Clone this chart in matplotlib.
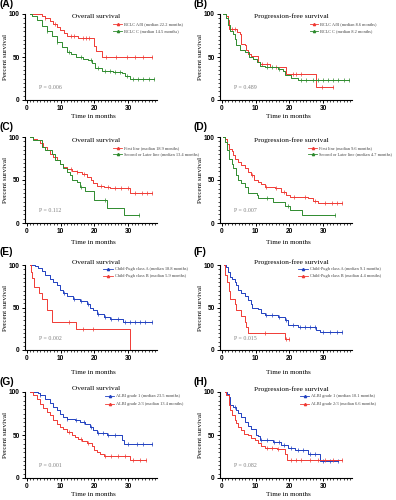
import numpy as np
import matplotlib
matplotlib.use("Agg")
import matplotlib.pyplot as plt
from matplotlib.ticker import MultipleLocator

plt.rcParams["font.family"] = "Liberation Serif"

RED = "#f03a34"
GREEN = "#2e8b2e"
BLUE = "#2040c0"

# ---- (A) overall survival by BCLC stage ----
a_ab_t = [1, 4.4, 5.4, 7.0, 7.9, 8.9, 9.9, 11.0, 11.8, 15.3, 19.8, 20.5, 22.2, 37.0]
a_ab_s = [100, 97.7, 95, 92, 88, 85, 81, 77.5, 74.4, 71.7, 63, 57, 50, 50]
a_ab_c = [5.5, 8.5, 13, 14, 16.5, 17.5, 18.5, 23.5, 26.5, 29.5, 32, 34.5, 37]
a_c_t = [1, 1.5, 3, 4.4, 5.9, 7.4, 8.9, 10.4, 11.8, 13.0, 14.5, 16.5, 18.0, 19.2,
         20.2, 22.2, 25.6, 28.1, 29.1, 30.6, 37.5]
a_c_s = [100, 98, 93, 86, 80.6, 74.4, 67.8, 61.2, 56.2, 54, 50.5, 48, 46, 42.6,
         36.8, 34, 32.5, 31, 28, 24.4, 24.4]
a_c_c = [6, 9, 12.5, 16, 19, 21, 23, 24.5, 26, 27.5, 29.5, 31.5, 33, 34.5, 36, 37.5]

# ---- (B) progression-free survival by BCLC stage ----
b_ab_t = [0.7, 1.4, 1.9, 2.2, 4.6, 5.3, 5.8, 6.8, 7.1, 7.8, 8.6, 10.7, 11.2, 14.2,
          19.1, 19.6, 28.0, 33.0]
b_ab_s = [100, 97.7, 93, 83, 79, 77, 65.6, 63.7, 58, 54, 51, 44, 42, 38,
          30.5, 29.7, 15, 15]
b_ab_c = [3, 4, 12, 13.5, 16, 21, 22, 23.5, 29.5, 33]
b_c_t = [0.4, 1.4, 1.9, 2.4, 3.3, 3.8, 4.3, 5.3, 6.8, 8.2, 9.3, 10.3, 11.2, 12.7,
         16.7, 18.1, 18.8, 20.6, 22.6, 37.5]
b_c_s = [100, 95, 87, 80.5, 77, 71.5, 64, 58.6, 56, 50, 48, 44, 40, 38,
         36, 34, 28.5, 26, 22.7, 22.7]
b_c_c = [13.5, 15, 17, 23.5, 25, 27, 28.5, 30, 31.5, 33, 34.5, 36, 37.5]

# ---- (C) overall survival by line of treatment ----
c_first_t = [1, 2, 3, 4, 4.9, 5.9, 6.9, 7.9, 8.9, 9.9, 10.8, 11.8, 13.3, 14.8, 16.3,
             17.7, 18.9, 19.7, 20.7, 22.7, 24.6, 30.6, 37]
c_first_s = [100, 98, 96, 93.5, 88.5, 84.6, 80.8, 77, 73, 69, 65.4, 62.7, 60.4, 58.8,
             56.5, 53.8, 50, 46, 43.5, 41.5, 40.4, 35.4, 35.4]
c_first_c = [13, 15, 17, 22, 24, 26, 28, 30, 32, 34, 35.5, 37]
c_later_t = [1, 2, 4.4, 5.4, 7.4, 8.4, 9.9, 10.8, 11.8, 12.8, 13.4, 14.8, 15.8, 17.3,
             20.0, 23.7, 28.8, 33.2]
c_later_s = [100, 96, 88.5, 84.6, 80.8, 73, 69, 64, 59.6, 55.8, 50, 48, 42.3, 37.7,
             26.7, 17.8, 9.3, 9.3]
c_later_c = [16, 23, 33.2]

# ---- (D) progression-free survival by line of treatment ----
d_first_t = [0.4, 1.1, 1.7, 2.1, 2.9, 3.3, 4.0, 4.8, 5.8, 6.8, 7.8, 8.8, 9.6, 10.7,
             11.7, 12.7, 15.7, 17.6, 19.1, 20.1, 25.5, 27.0, 28.5, 35.5]
d_first_s = [100, 98, 92, 85.8, 83.5, 79.6, 75, 71, 67.3, 63.5, 59.6, 55.8, 50, 48,
             45, 42.3, 40.4, 36.5, 32.7, 30.8, 28.8, 25.8, 23, 23]
d_first_c = [9, 13, 16, 18.5, 21.5, 24.5, 27.5, 30.5, 32.5, 34, 35.5]
d_later_t = [0.4, 1.1, 1.7, 2.2, 2.9, 3.3, 4.3, 4.7, 5.8, 6.8, 7.8, 10.3, 10.7, 15.2,
             18.6, 20.1, 23.6, 33.4]
d_later_s = [100, 94, 84.6, 75, 69, 63.5, 55.8, 50, 46, 42.3, 35.4, 32.7, 28.8, 24,
             19.2, 15.4, 8.8, 8.8]
d_later_c = [13.5, 19.5, 33.4]

# ---- (E) overall survival by Child-Pugh class ----
e_a_t = [1, 2.5, 3.4, 4.4, 5.4, 6.9, 7.9, 8.9, 9.9, 10.8, 11.8, 13.8, 15.8, 17.7,
         18.8, 19.7, 20.7, 22.7, 24.6, 28.6, 37]
e_a_s = [100, 99, 97, 93, 88, 84, 80, 76, 71, 67, 63, 60.5, 57.8, 54.7,
         50, 47, 42, 39, 37, 33, 33]
e_a_c = [11, 14, 16, 18, 21, 23, 25, 27, 29, 30.5, 32, 33.5, 35, 37]
e_b_t = [1, 1.3, 1.7, 2.2, 3.5, 4.5, 5.9, 7.4, 14.6, 30.6, 30.6]
e_b_s = [100, 92, 85, 74, 67, 60, 47, 33, 25, 0, 0]
e_b_c = [12.5, 16.5, 19.5]

# ---- (F) progression-free survival by Child-Pugh class ----
f_a_t = [0.7, 1.4, 1.9, 2.4, 2.9, 3.8, 4.3, 4.8, 5.8, 6.8, 7.8, 8.8, 9.1, 10.7,
         11.7, 12.7, 16.7, 18.6, 19.6, 22.6, 28.0, 29.0, 35.5]
f_a_s = [100, 97.7, 92, 86, 83, 80, 76, 71, 67, 63, 58.6, 54.7, 50, 48,
         43.8, 41, 39, 35, 29.3, 26.6, 23.4, 21.5, 21.5]
f_a_c = [13, 15, 17, 19, 21, 23, 24.5, 26, 27.5, 30, 32, 34, 35.5]
f_b_t = [0.7, 1.1, 1.7, 2.1, 2.4, 3.8, 4.3, 5.8, 6.8, 7.3, 7.8, 18.8, 19.8]
f_b_s = [100, 88, 80, 70, 60.5, 54.7, 47, 40, 33, 27, 20.3, 12.5, 12.5]
f_b_c = [12.7, 19.1, 19.8]

# ---- (G) overall survival by ALBI grade ----
g_1_t = [1, 3.4, 3.9, 5.4, 6.9, 7.9, 8.9, 9.9, 10.8, 11.8, 14.3, 15.8, 17.3, 18.7,
         19.7, 20.7, 23.7, 28.1, 28.8, 37]
g_1_s = [100, 99, 96, 91.5, 87.7, 82.7, 79, 75, 71, 68.5, 67.3, 65.4, 62.3, 59.6,
         55.8, 52, 50, 44, 39, 39]
g_1_c = [4, 12, 14.5, 17, 19, 21, 22.5, 24, 26, 30, 32.5, 34.5, 37]
g_23_t = [1, 2, 3, 3.9, 4.9, 5.9, 6.9, 7.9, 8.9, 9.9, 10.8, 11.8, 13.4, 14.3, 15.3,
          16.3, 17.7, 19.2, 19.9, 20.7, 21.7, 22.7, 30.6, 35.2]
g_23_s = [100, 96, 91.5, 86.5, 81.5, 77, 73, 67.3, 62.3, 59.6, 57, 53.8, 50, 48, 45,
          43, 41, 37.7, 32.7, 30, 27.7, 26, 20.4, 20.4]
g_23_c = [12.5, 16, 18, 23, 25, 27, 29, 31.5, 33.5, 35.2]

# ---- (H) progression-free survival by ALBI grade ----
h_1_t = [0.9, 1.7, 2.1, 2.4, 3.3, 4.3, 4.8, 5.8, 6.8, 7.8, 8.8, 10.1, 10.7, 11.2,
         15.2, 17.6, 19.6, 21.6, 25.5, 29.0, 34.4]
h_1_s = [100, 98, 94, 84.6, 82.7, 79, 76, 71, 65.4, 60.8, 57, 50, 49, 44,
         42.3, 38.5, 35.4, 32.7, 27.7, 20, 20]
h_1_c = [4, 11.5, 13.5, 15.5, 17, 18.5, 20.5, 22.5, 24, 26, 27.5, 30, 32, 34.4]
h_23_t = [0.9, 1.4, 2.1, 2.4, 2.9, 3.8, 4.3, 4.8, 5.8, 6.6, 7.8, 8.8, 9.8, 10.7,
          11.7, 12.7, 16.2, 18.6, 19.4, 35.5]
h_23_s = [100, 96, 84.6, 79, 73.8, 67.3, 63.5, 59.6, 55.8, 51, 49.5, 47, 44, 40.4,
          37.7, 35.4, 33.8, 27.7, 21, 21]
h_23_c = [13.5, 15, 16.5, 20.5, 22, 23.5, 26, 28.5, 30.5, 33, 35.5]

x_ticks = [0, 10, 20, 30]
y_ticks = [0, 50, 100]
panel_labels = ["(A)", "(B)", "(C)", "(D)", "(E)", "(F)", "(G)", "(H)"]
titles = ["Overall survival", "Progression-free survival"] * 4
p_values = ["P = 0.006", "P = 0.489", "P = 0.112", "P = 0.007",
            "P = 0.002", "P = 0.015", "P = 0.001", "P = 0.082"]
legend_labels = [
    ["BCLC A/B (median 22.2 months)", "BCLC C (median 14.5 months)"],
    ["BCLC A/B (median 8.6 months)", "BCLC C (median 8.2 months)"],
    ["First line (median 18.9 months)", "Second or Later line (median 13.4 months)"],
    ["First line (median 9.6 months)", "Second or Later line (median 4.7 months)"],
    ["Child-Pugh class A (median 18.8 months)", "Child-Pugh class B (median 5.9 months)"],
    ["Child-Pugh class A (median 9.1 months)", "Child-Pugh class B (median 4.4 months)"],
    ["ALBI grade 1 (median 23.5 months)", "ALBI grade 2/3 (median 13.4 months)"],
    ["ALBI grade 1 (median 10.1 months)", "ALBI grade 2/3 (median 6.6 months)"],
]
curves = [
    [(a_ab_t, a_ab_s, a_ab_c, RED), (a_c_t, a_c_s, a_c_c, GREEN)],
    [(b_ab_t, b_ab_s, b_ab_c, RED), (b_c_t, b_c_s, b_c_c, GREEN)],
    [(c_first_t, c_first_s, c_first_c, RED), (c_later_t, c_later_s, c_later_c, GREEN)],
    [(d_first_t, d_first_s, d_first_c, RED), (d_later_t, d_later_s, d_later_c, GREEN)],
    [(e_a_t, e_a_s, e_a_c, BLUE), (e_b_t, e_b_s, e_b_c, RED)],
    [(f_a_t, f_a_s, f_a_c, BLUE), (f_b_t, f_b_s, f_b_c, RED)],
    [(g_1_t, g_1_s, g_1_c, BLUE), (g_23_t, g_23_s, g_23_c, RED)],
    [(h_1_t, h_1_s, h_1_c, BLUE), (h_23_t, h_23_s, h_23_c, RED)],
]

W, H = 396, 500
fig = plt.figure(figsize=(W / 100, H / 100), dpi=100)

# pixel boxes of the plotting areas: (top = 100%, bottom = 0%)
col_left = [25, 220]
row_box = [(14, 100), (137, 223), (265, 350), (392, 478)]
ax_w = 132
label_y = [4, 127, 252, 382]
title_y = [16, 140, 262, 389]
xlabel_y = [117, 242, 373, 494]
# legend placement (data coords): marker start, marker end, y of 1st and 2nd entry
leg_pos = [(25.5, 28.2, 88, 80), (26.1, 28.5, 88, 80),
           (25.5, 28.2, 87, 80), (25.5, 28.2, 87, 80),
           (22.6, 25.5, 95, 87), (22.6, 25.5, 95, 87),
           (23.2, 25.8, 95, 86), (23.2, 25.8, 95, 86)]

tick_font = dict(fontsize=4.7, fontweight="bold", fontfamily="Liberation Sans")


def fx(px):
    return px / W


def fy(py):
    return 1 - py / H


for i in range(8):
    row, col = divmod(i, 2)
    top, bot = row_box[row]
    left = col_left[col]
    ax = fig.add_axes([fx(left), fy(bot), ax_w / W, (bot - top) / H])

    for t, s, cens, color in curves[i]:
        ax.plot(t, s, drawstyle="steps-post", color=color, lw=0.7, clip_on=False)
        idx = np.searchsorted(t, cens, side="right") - 1
        ax.plot(cens, np.array(s)[idx], ls="none", marker="|", ms=2.2, mew=0.5,
                color=color, clip_on=False)

    ax.set_xlim(-0.5, 38.5)
    ax.set_ylim(0, 100)
    ax.spines["top"].set_visible(False)
    ax.spines["right"].set_visible(False)
    for sp in ("left", "bottom"):
        ax.spines[sp].set_linewidth(0.8)
    ax.set_xticks(x_ticks, labels=[str(v) for v in x_ticks], **tick_font)
    ax.set_yticks(y_ticks, labels=[str(v) for v in y_ticks], **tick_font)
    ax.xaxis.set_minor_locator(MultipleLocator(1))
    ax.yaxis.set_minor_locator(MultipleLocator(5))
    ax.tick_params(which="major", length=2.5, width=0.7, pad=1.2)
    ax.tick_params(which="minor", length=1.4, width=0.5)

    ax.set_ylabel("Percent survival", fontsize=5.1)
    ax.yaxis.set_label_coords(-0.13, 0.5)

    # legend drawn by hand, as in the original
    m0, m1, y1, y2 = leg_pos[i]
    for (t, s, cens, color), lab, yy in zip(curves[i], legend_labels[i], (y1, y2)):
        ax.plot([m0, m1], [yy, yy], color=color, lw=0.6, clip_on=False)
        ax.plot([(m0 + m1) / 2], [yy], marker="^", ms=1.6, color=color, clip_on=False)
        ax.text(m1 + 0.6, yy, lab, fontsize=3.2, va="center", ha="left",
                color="#444444")

    ax.text(3.5, 14, p_values[i], fontsize=4.2, color="#808080", va="center")

    fig.text(fx(left + ax_w * 0.54), fy(title_y[row]), titles[i], fontsize=5.3,
             ha="center", va="center")
    fig.text(fx(left + ax_w * 0.52), fy(xlabel_y[row]), "Time in months",
             fontsize=5.1, ha="center", va="center")
    fig.text(fx(0 if col == 0 else 193), fy(label_y[row]), panel_labels[i],
             fontsize=7.3, fontweight="bold", family="Liberation Sans",
             ha="left", va="center")

fig.savefig("out.png", dpi=100)
